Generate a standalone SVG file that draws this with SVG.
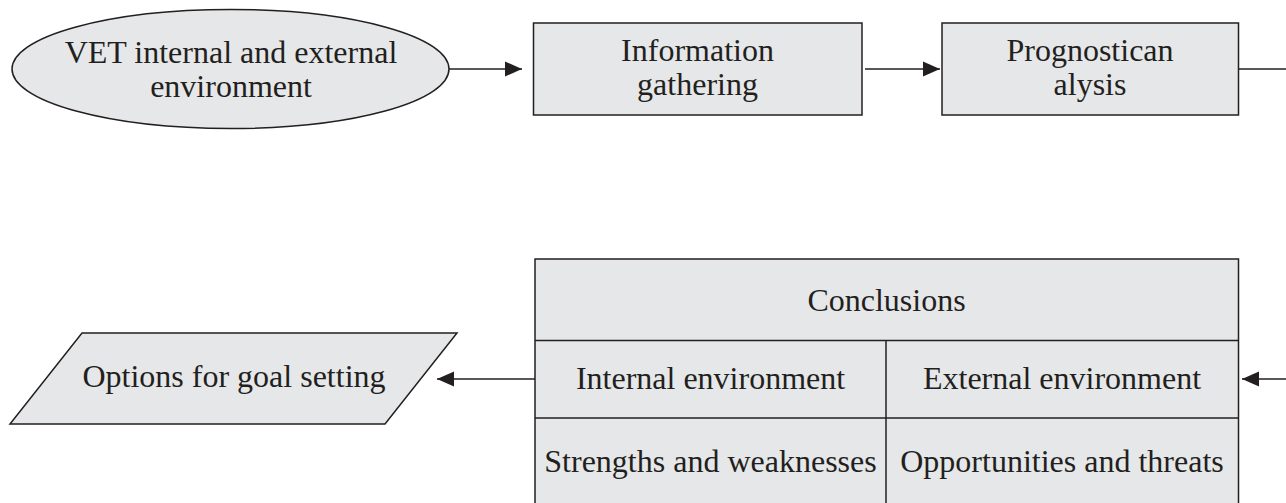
<svg xmlns="http://www.w3.org/2000/svg" width="1286" height="503" viewBox="0 0 1286 503">
<style>
.shape{fill:#e6e7e8;stroke:#231f20;stroke-width:1.5}
.line{fill:none;stroke:#231f20;stroke-width:1.5}
.conn{fill:none;stroke:#231f20;stroke-width:1.5}
text{font-family:"Liberation Serif","Times New Roman",serif;font-size:32px;fill:#231f20;text-anchor:middle}
</style>
<defs>
<marker id="arrow" markerUnits="userSpaceOnUse" markerWidth="18" markerHeight="16" refX="17" refY="8" orient="auto">
<path d="M0,0.5 L17,8 L0,15.5 z" fill="#231f20"/>
</marker>
</defs>
<rect width="1286" height="503" fill="#ffffff"/>
<g id="vet">
<ellipse class="shape" cx="230.5" cy="69" rx="218.5" ry="59.5"/>
<text x="231" y="63">VET internal and external</text>
<text x="231" y="97">environment</text>
</g>
<g id="info">
<rect class="shape" x="533.5" y="23" width="328.5" height="92"/>
<text x="697.5" y="61">Information</text>
<text x="697.5" y="95">gathering</text>
</g>
<g id="prog">
<rect class="shape" x="942" y="23" width="296.5" height="92"/>
<text x="1090" y="61">Prognostican</text>
<text x="1090" y="95">alysis</text>
</g>
<g id="conclusions">
<rect class="shape" x="535" y="259" width="703.5" height="260"/>
<line class="line" x1="535" y1="340.5" x2="1238.5" y2="340.5"/>
<line class="line" x1="535" y1="418" x2="1238.5" y2="418"/>
<line class="line" x1="886" y1="340.5" x2="886" y2="519"/>
<text x="886.5" y="311">Conclusions</text>
<text x="710.5" y="389">Internal environment</text>
<text x="1062" y="389">External environment</text>
<text x="710.5" y="472">Strengths and weaknesses</text>
<text x="1062" y="472">Opportunities and threats</text>
</g>
<g id="options">
<polygon class="shape" points="82,333 457,333 385,424 10,424"/>
<text x="234" y="387">Options for goal setting</text>
</g>
<g id="connectors">
<line class="conn" x1="449" y1="69" x2="522" y2="69" marker-end="url(#arrow)"/>
<line class="conn" x1="865" y1="69" x2="940" y2="69" marker-end="url(#arrow)"/>
<line class="conn" x1="1238.5" y1="69" x2="1286" y2="69"/>
<line class="conn" x1="1286" y1="379" x2="1242" y2="379" marker-end="url(#arrow)"/>
<line class="conn" x1="535" y1="379" x2="437" y2="379" marker-end="url(#arrow)"/>
</g>
</svg>
